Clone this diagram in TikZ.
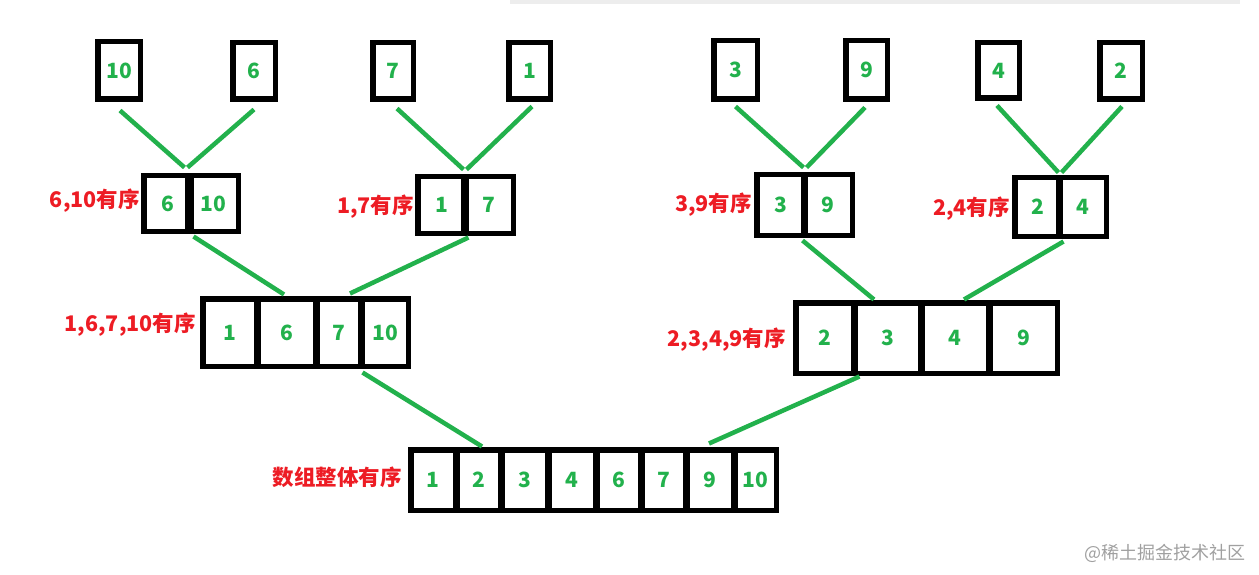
\documentclass[tikz,border=0pt]{standalone}
\usepackage{fontspec}
\setmainfont{Noto Sans CJK SC}
\definecolor{numgreen}{RGB}{34,177,76}
\definecolor{lblred}{RGB}{237,28,36}
\definecolor{wmgray}{RGB}{160,160,160}
\tikzset{
  cell/.style={draw=black, line width=5.5pt, inner sep=0pt, text=numgreen,
    font=\bfseries\fontsize{21}{21}\selectfont},
  lbl/.style={text=lblred, font=\bfseries\fontsize{21.5}{21.5}\selectfont, anchor=east, inner sep=0pt},
  conn/.style={draw=numgreen, line width=4.5pt},
}
% name, x1, x2, y1, y2, text (outer pixel extents)
\newcommand\mkcell[6]{%
  \node[cell, minimum width={#3-#2-5.5}, minimum height={#5-#4-5.5}] (#1) at ({(#2+#3)/2},{(#4+#5)/2}) {#6};}
\begin{document}
\begin{tikzpicture}[x=1pt,y=-1pt]
\useasboundingbox (0,0) rectangle (1259,575);
\fill[gray!14] (510,0) rectangle (1240,4);
% leaves
\mkcell{L10}{95}{143}{39}{102}{10}
\mkcell{L6}{230}{278}{40}{102}{6}
\mkcell{L7}{370}{416}{40}{102}{7}
\mkcell{L1}{506}{553}{40}{102}{1}
\mkcell{L3}{711}{760}{38}{102}{3}
\mkcell{L9}{843}{890}{38}{102}{9}
\mkcell{L4}{975}{1022}{40}{101}{4}
\mkcell{L2}{1097}{1145}{40}{102}{2}
% pairs
\mkcell{P1a}{141}{194}{173}{234}{6}
\mkcell{P1b}{185}{241}{173}{234}{10}
\mkcell{P2a}{415}{469}{174}{236}{1}
\mkcell{P2b}{461}{516}{174}{236}{7}
\mkcell{P3a}{754}{808}{172}{238}{3}
\mkcell{P3b}{801}{855}{172}{238}{9}
\mkcell{P4a}{1012}{1063}{175}{239}{2}
\mkcell{P4b}{1056}{1109}{175}{239}{4}
% quads
\mkcell{Q1a}{200}{259}{296}{369}{1}
\mkcell{Q1b}{255}{318}{296}{369}{6}
\mkcell{Q1c}{314}{363}{296}{369}{7}
\mkcell{Q1d}{359}{411}{296}{369}{10}
\mkcell{Q2a}{793}{856}{300}{376}{2}
\mkcell{Q2b}{852}{923}{300}{376}{3}
\mkcell{Q2c}{919}{991}{300}{376}{4}
\mkcell{Q2d}{987}{1060}{300}{376}{9}
% whole
\mkcell{R1}{408}{458}{447}{513}{1}
\mkcell{R2}{454}{503}{447}{513}{2}
\mkcell{R3}{499}{550}{447}{513}{3}
\mkcell{R4}{546}{598}{447}{513}{4}
\mkcell{R5}{594}{643}{447}{513}{6}
\mkcell{R6}{639}{688}{447}{513}{7}
\mkcell{R7}{684}{736}{447}{513}{9}
\mkcell{R8}{732}{779}{447}{513}{10}
% labels
\node[lbl] (t1) at (140,201) {6,10有序};
\node[lbl] (t2) at (414,207) {1,7有序};
\node[lbl] (t3) at (752,205) {3,9有序};
\node[lbl] (t4) at (1010,209) {2,4有序};
\node[lbl] (t5) at (196,325) {1,6,7,10有序};
\node[lbl] (t6) at (786,340) {2,3,4,9有序};
\node[lbl] (t7) at (402,477) {数组整体有序};
% connectors
\draw[conn] ([shift={(1,8.5)}]L10.south) -- ([shift={(-9.5,-5.5)}]P1a.north east);
\draw[conn] ([shift={(0,7.5)}]L6.south) -- ([shift={(-6.5,-5.5)}]P1a.north east);
\draw[conn] ([shift={(4,6.5)}]L7.south) -- ([shift={(-5.5,-4.5)}]P2a.north east);
\draw[conn] ([shift={(2.5,4.5)}]L1.south) -- ([shift={(-2.5,-4.5)}]P2a.north east);
\draw[conn] ([shift={(0,4.5)}]L3.south) -- ([shift={(-4.5,-4.5)}]P3a.north east);
\draw[conn] ([shift={(-1.5,5.5)}]L9.south) -- ([shift={(-1.5,-4.5)}]P3a.north east);
\draw[conn] ([shift={(-1.5,4.5)}]L4.south) -- ([shift={(-4.5,-2.5)}]P4a.north east);
\draw[conn] ([shift={(1,4.5)}]L2.south) -- ([shift={(-1.5,-2.5)}]P4a.north east);
\draw[conn] ([shift={(-0.5,2.5)}]P1a.south east) -- ([shift={(-2.5,-1.5)}]Q1b.north);
\draw[conn] ([shift={(-0.5,1.5)}]P2a.south east) -- ([shift={(11.5,-2.5)}]Q1c.north);
\draw[conn] ([shift={(-5.5,2.5)}]P3a.south east) -- ([shift={(-13.5,-0.5)}]Q2b.north);
\draw[conn] ([shift={(0.5,2.5)}]P4a.south east) -- ([shift={(9,-0.5)}]Q2c.north);
\draw[conn] ([shift={(-0.5,3.5)}]Q1c.south east) -- ([shift={(3.5,-0.5)}]R2.north);
\draw[conn] ([shift={(3.5,0.5)}]Q2a.south east) -- ([shift={(-1,-3.5)}]R7.north);
% watermark
\node[anchor=east, inner sep=0pt, text=wmgray, font=\fontsize{18}{18}\selectfont] (wm) at (1246,553) {@稀土掘金技术社区};
\end{tikzpicture}
\end{document}
